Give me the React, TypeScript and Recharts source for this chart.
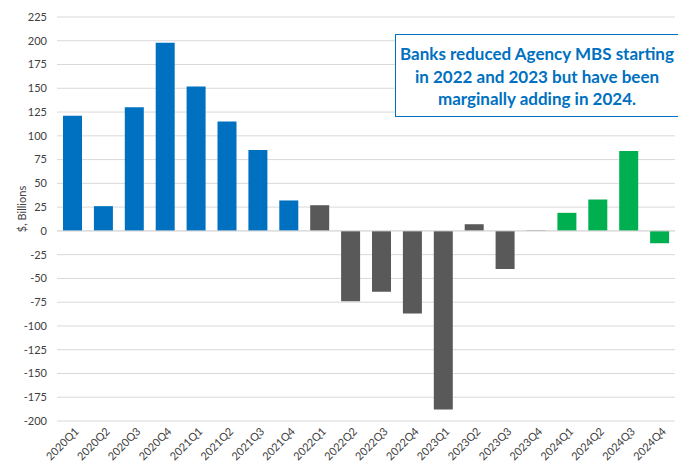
import { BarChart, Bar, XAxis, YAxis, CartesianGrid, Cell, ReferenceLine } from 'recharts';

const quarters = [
  '2020Q1', '2020Q2', '2020Q3', '2020Q4',
  '2021Q1', '2021Q2', '2021Q3', '2021Q4',
  '2022Q1', '2022Q2', '2022Q3', '2022Q4',
  '2023Q1', '2023Q2', '2023Q3', '2023Q4',
  '2024Q1', '2024Q2', '2024Q3', '2024Q4',
];
const mbsChange = [
  121, 26, 130, 198,
  152, 115, 85, 32,
  27, -74, -64, -87,
  -188, 7, -40, 0.5,
  19, 33, 84, -13,
];
const yTicks = [-200, -175, -150, -125, -100, -75, -50, -25, 0, 25, 50, 75, 100, 125, 150, 175, 200, 225];
const note = ['Banks reduced Agency MBS starting', 'in 2022 and 2023 but have been', 'marginally adding in 2024.'];

const data = quarters.map((q, i) => ({ quarter: q, value: mbsChange[i] }));

const FONT = 'Lato, "Open Sans", sans-serif';

function barColor(q: string) {
  const year = q.slice(0, 4);
  if (year === '2020' || year === '2021') return '#0070C0';
  if (year === '2024') return '#00B050';
  return '#595959';
}

// rotated quarter labels, ending just right of the tick
function QuarterTick({ x, y, payload }: any) {
  return (
    <g transform={`translate(${x + 5},${y + 1})`}>
      <text
        transform="rotate(-45)"
        textAnchor="end"
        fill="#404040"
        fontSize={11}
        fontFamily={FONT}
        dy={3}
      >
        {payload.value}
      </text>
    </g>
  );
}

export default function App() {
  return (
    <div style={{ position: 'absolute', left: 0, top: 0, width: 678, height: 461, background: '#fff' }}>
      <BarChart
        width={678}
        height={461}
        data={data}
        margin={{ top: 17, right: 3, left: 0, bottom: 0 }}
        barSize={19}
      >
        <CartesianGrid vertical={false} stroke="#D9D9D9" />
        <XAxis
          dataKey="quarter"
          interval={0}
          axisLine={false}
          tickLine={false}
          height={40}
          tick={<QuarterTick />}
        />
        <YAxis
          domain={[-200, 225]}
          ticks={yTicks}
          interval={0}
          width={57}
          axisLine={false}
          tickLine={false}
          tickMargin={4}
          tick={{ fill: '#404040', fontSize: 11, fontFamily: FONT }}
          label={{
            value: '$, Billions',
            angle: -90,
            position: 'insideLeft',
            offset: 22,
            dy: -10,
            style: { fill: '#404040', fontSize: 11, fontFamily: FONT, textAnchor: 'middle' },
          }}
        />
        <ReferenceLine y={0} stroke="#D9D9D9" />
        <Bar dataKey="value" isAnimationActive={false}>
          {data.map((d) => (
            <Cell key={d.quarter} fill={barColor(d.quarter)} />
          ))}
        </Bar>
      </BarChart>
      <div
        style={{
          position: 'absolute',
          left: 395,
          top: 34,
          width: 288,
          height: 83,
          border: '1.5px solid #0070C0',
          background: '#fff',
          color: '#0070C0',
          fontFamily: FONT,
          fontWeight: 'bold',
          fontSize: 17,
          lineHeight: '22.5px',
          textAlign: 'center',
          paddingTop: 8,
          paddingRight: 4,
          boxSizing: 'border-box',
        }}
      >
        {note.map((line) => (
          <div key={line} style={{ whiteSpace: 'nowrap' }}>{line}</div>
        ))}
      </div>
    </div>
  );
}
